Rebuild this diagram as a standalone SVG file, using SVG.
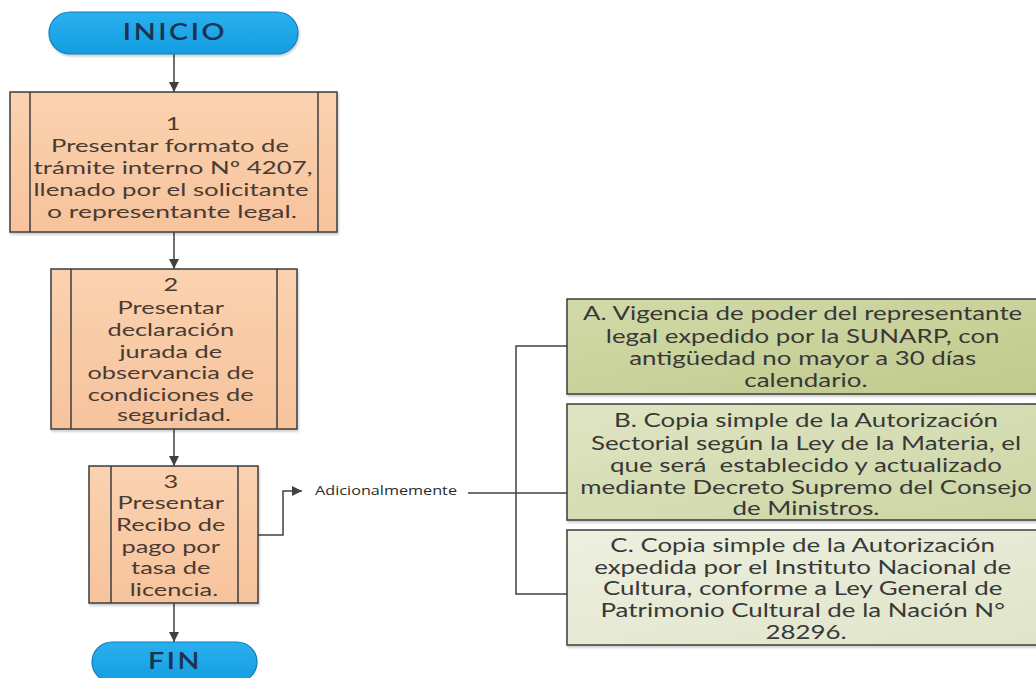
<svg xmlns="http://www.w3.org/2000/svg" width="1036" height="678" viewBox="0 0 1036 678">
  <defs>
    <linearGradient id="gPill" x1="0" y1="0" x2="0" y2="1">
      <stop offset="0" stop-color="#2bb0ee"/>
      <stop offset="1" stop-color="#139de0"/>
    </linearGradient>
    <linearGradient id="gProc" x1="0" y1="0" x2="0" y2="1">
      <stop offset="0" stop-color="#fbd2b0"/>
      <stop offset="1" stop-color="#f6c39c"/>
    </linearGradient>
    <linearGradient id="gA" x1="0" y1="0" x2="1" y2="1">
      <stop offset="0" stop-color="#d2daa8"/>
      <stop offset="1" stop-color="#bfca8c"/>
    </linearGradient>
    <linearGradient id="gB" x1="0" y1="0" x2="1" y2="1">
      <stop offset="0" stop-color="#dfe5c3"/>
      <stop offset="1" stop-color="#ccd5a3"/>
    </linearGradient>
    <linearGradient id="gC" x1="0" y1="0" x2="1" y2="1">
      <stop offset="0" stop-color="#eef0e0"/>
      <stop offset="1" stop-color="#dfe4c9"/>
    </linearGradient>
    <marker id="arrow" viewBox="0 0 10 10" refX="10" refY="5" markerWidth="10" markerHeight="10" markerUnits="userSpaceOnUse" orient="auto">
      <path d="M0,0 L10,5 L0,10 Z" fill="#404040"/>
    </marker>
    <filter id="soft" x="-5%" y="-5%" width="110%" height="115%">
      <feDropShadow dx="1" dy="2" stdDeviation="1.2" flood-color="#000" flood-opacity="0.2"/>
    </filter>
  </defs>
  <style>
    .pill { fill: url(#gPill); stroke: #0e7fbf; stroke-width: 1.2; }
    .pillText { font-family: Lato, "Open Sans", sans-serif; font-size: 22px; font-weight: 600; fill: #1b3350; text-anchor: middle; letter-spacing: 2px; }
    .proc { fill: url(#gProc); stroke: #3c3c3c; stroke-width: 1.5; }
    .side { stroke: #3c3c3c; stroke-width: 1.5; fill: none; }
    .procText { font-family: Lato, "Open Sans", sans-serif; font-size: 17.5px; fill: #4a3b32; text-anchor: middle; }
    .doc { stroke: #3c3c3c; stroke-width: 1.5; }
    .docText { font-family: Lato, "Open Sans", sans-serif; font-size: 18.5px; fill: #383838; text-anchor: middle; }
    .conn { stroke: #404040; stroke-width: 1.5; fill: none; }
    .label { font-family: "Open Sans", Lato, sans-serif; font-size: 12px; fill: #2a2a2a; }
  </style>

  <rect width="1036" height="678" fill="#ffffff"/>

  <!-- connectors -->
  <g id="connectors">
    <line class="conn" x1="174" y1="54" x2="174" y2="92" marker-end="url(#arrow)"/>
    <line class="conn" x1="174" y1="232" x2="174" y2="269" marker-end="url(#arrow)"/>
    <line class="conn" x1="174" y1="429" x2="174" y2="466" marker-end="url(#arrow)"/>
    <line class="conn" x1="174" y1="603" x2="174" y2="642" marker-end="url(#arrow)"/>
    <polyline class="conn" points="258,535 283,535 283,491 302,491" marker-end="url(#arrow)"/>
    <text class="label" x="315" y="495" textLength="142" lengthAdjust="spacingAndGlyphs">Adicionalmemente</text>
    <line class="conn" x1="468" y1="493" x2="567" y2="493"/>
    <polyline class="conn" points="567,346 516,346 516,594 567,594"/>
  </g>

  <!-- start -->
  <g id="inicio">
    <rect class="pill" x="49" y="12" width="249" height="42" rx="21" ry="21" filter="url(#soft)"/>
    <g transform="translate(175,0) scale(1.3,1) translate(-175,0)">
      <text class="pillText" x="175" y="40">INICIO</text>
    </g>
  </g>

  <!-- step 1 -->
  <g id="paso1">
    <rect class="proc" x="10" y="92" width="327" height="140" filter="url(#soft)"/>
    <line class="side" x1="30" y1="92" x2="30" y2="232"/>
    <line class="side" x1="318" y1="92" x2="318" y2="232"/>
    <g transform="translate(173,0) scale(1.45,1) translate(-173,0)">
      <text class="procText" x="173" y="130">1</text>
    </g>
    <text class="procText" x="170" y="152" textLength="238" lengthAdjust="spacingAndGlyphs">Presentar formato de</text>
    <text class="procText" x="173" y="174" textLength="279" lengthAdjust="spacingAndGlyphs">trámite interno Nº 4207,</text>
    <text class="procText" x="171" y="196" textLength="275" lengthAdjust="spacingAndGlyphs">llenado por el solicitante</text>
    <text class="procText" x="172" y="218" textLength="250" lengthAdjust="spacingAndGlyphs">o representante legal.</text>
  </g>

  <!-- step 2 -->
  <g id="paso2">
    <rect class="proc" x="51" y="269" width="246" height="160" filter="url(#soft)"/>
    <line class="side" x1="71" y1="269" x2="71" y2="429"/>
    <line class="side" x1="277" y1="269" x2="277" y2="429"/>
    <g transform="translate(174,0) scale(1.45,1) translate(-174,0)">
      <text class="procText">
        <tspan x="174" y="291">2</tspan>
        <tspan x="174" y="314">Presentar</tspan>
        <tspan x="174" y="336">declaración</tspan>
        <tspan x="174" y="358">jurada de</tspan>
        <tspan x="174" y="379">observancia de</tspan>
        <tspan x="174" y="401">condiciones de</tspan>
        <tspan x="174" y="421">seguridad.</tspan>
      </text>
    </g>
  </g>

  <!-- step 3 -->
  <g id="paso3">
    <rect class="proc" x="89" y="466" width="169" height="137" filter="url(#soft)"/>
    <line class="side" x1="111" y1="466" x2="111" y2="603"/>
    <line class="side" x1="238" y1="466" x2="238" y2="603"/>
    <g transform="translate(174,0) scale(1.45,1) translate(-174,0)">
      <text class="procText">
        <tspan x="174" y="488">3</tspan>
        <tspan x="174" y="509">Presentar</tspan>
        <tspan x="174" y="531">Recibo de</tspan>
        <tspan x="174" y="553">pago por</tspan>
        <tspan x="174" y="574">tasa de</tspan>
        <tspan x="174" y="596">licencia.</tspan>
      </text>
    </g>
  </g>

  <!-- end -->
  <g id="fin">
    <rect class="pill" x="92" y="642" width="165" height="40" rx="20" ry="20"/>
    <g transform="translate(175,0) scale(1.3,1) translate(-175,0)">
      <text class="pillText" x="175" y="669">FIN</text>
    </g>
  </g>

  <!-- additional requirements -->
  <g id="reqA">
    <rect class="doc" x="567" y="299" width="480" height="95" fill="url(#gA)" filter="url(#soft)"/>
    <g transform="translate(806,0) scale(1.4,1) translate(-806,0)">
      <text class="docText">
        <tspan x="806" y="320">A. Vigencia de poder del representante</tspan>
        <tspan x="806" y="343">legal expedido por la SUNARP, con</tspan>
        <tspan x="806" y="365">antigüedad no mayor a 30 días</tspan>
        <tspan x="806" y="387">calendario.</tspan>
      </text>
    </g>
  </g>

  <g id="reqB">
    <rect class="doc" x="567" y="404" width="480" height="116" fill="url(#gB)" filter="url(#soft)"/>
    <g transform="translate(806,0) scale(1.4,1) translate(-806,0)">
      <text class="docText" xml:space="preserve"><tspan x="806" y="427">B. Copia simple de la Autorización</tspan><tspan x="806" y="450">Sectorial según la Ley de la Materia, el</tspan><tspan x="806" y="472">que será  establecido y actualizado</tspan><tspan x="806" y="494">mediante Decreto Supremo del Consejo</tspan><tspan x="806" y="515">de Ministros.</tspan></text>
    </g>
  </g>

  <g id="reqC">
    <rect class="doc" x="567" y="530" width="480" height="115" fill="url(#gC)" filter="url(#soft)"/>
    <g transform="translate(806,0) scale(1.4,1) translate(-806,0)">
      <text class="docText">
        <tspan x="806" y="552">C. Copia simple de la Autorización</tspan>
        <tspan x="806" y="574">expedida por el Instituto Nacional de</tspan>
        <tspan x="806" y="595">Cultura, conforme a Ley General de</tspan>
        <tspan x="806" y="617">Patrimonio Cultural de la Nación N°</tspan>
        <tspan x="806" y="639">28296.</tspan>
      </text>
    </g>
  </g>
</svg>
